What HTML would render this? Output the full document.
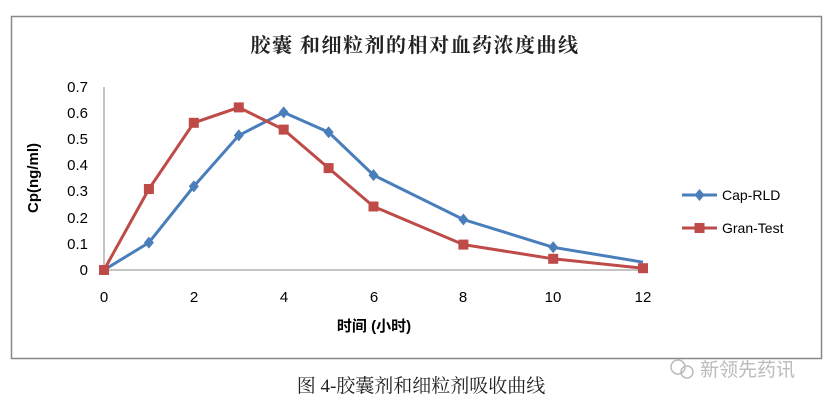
<!DOCTYPE html>
<html><head><meta charset="utf-8"><style>
body{margin:0;background:#fff;width:830px;height:404px;overflow:hidden}
</style></head><body>
<svg width="830" height="404" xmlns="http://www.w3.org/2000/svg" font-family="Liberation Sans, Noto Sans CJK SC, sans-serif">
<rect x="11.5" y="16.5" width="810" height="342" fill="#fff" stroke="#888" stroke-width="1.5"/>
<text x="415" y="52" text-anchor="middle" font-size="20" letter-spacing="1.5" font-family="Noto Serif CJK SC, serif" font-weight="bold" fill="#222">胶囊 和细粒剂的相对血药浓度曲线</text>
<line x1="104" y1="87" x2="104" y2="270" stroke="#888"/>
<line x1="104" y1="270" x2="643" y2="270" stroke="#888"/>
<g font-size="15" fill="#000" text-anchor="end">
<text x="88" y="275">0</text><text x="88" y="249">0.1</text><text x="88" y="223">0.2</text><text x="88" y="196">0.3</text><text x="88" y="170">0.4</text><text x="88" y="144">0.5</text><text x="88" y="118">0.6</text><text x="88" y="92">0.7</text>
</g>
<g font-size="15" fill="#000" text-anchor="middle">
<text x="104" y="302">0</text><text x="194" y="302">2</text><text x="284" y="302">4</text><text x="374" y="302">6</text><text x="463" y="302">8</text><text x="553" y="302">10</text><text x="643" y="302">12</text>
</g>
<text x="374" y="331" text-anchor="middle" font-size="15" font-weight="bold">时间 (小时)</text>
<text transform="translate(38,178) rotate(-90)" text-anchor="middle" font-size="15" font-weight="bold">Cp(ng/ml)</text>
<polyline fill="none" stroke="#4a7ebb" stroke-width="3" points="104,270 148.9,242.6 193.8,186.4 238.8,135.4 283.7,112.4 328.6,132.2 373.5,175.1 463.4,219.5 553.2,247.3 643,262.2"/>
<g fill="#4a7ebb">
<path d="M148.9,236.6l5,6l-5,6l-5,-6z"/><path d="M193.8,180.4l5,6l-5,6l-5,-6z"/><path d="M238.8,129.4l5,6l-5,6l-5,-6z"/><path d="M283.7,106.4l5,6l-5,6l-5,-6z"/><path d="M328.6,126.2l5,6l-5,6l-5,-6z"/><path d="M373.5,169.1l5,6l-5,6l-5,-6z"/><path d="M463.4,213.5l5,6l-5,6l-5,-6z"/><path d="M553.2,241.3l5,6l-5,6l-5,-6z"/>
</g>
<polyline fill="none" stroke="#be4b48" stroke-width="3" points="104,270 148.9,189 193.8,122.8 238.8,107.4 283.7,129.6 328.6,168.1 373.5,206.5 463.4,244.6 553.2,258.8 643,268.2"/>
<g fill="#be4b48">
<rect x="99" y="265" width="10" height="10"/><rect x="143.9" y="184" width="10" height="10"/><rect x="188.8" y="117.8" width="10" height="10"/><rect x="233.8" y="102.4" width="10" height="10"/><rect x="278.7" y="124.6" width="10" height="10"/><rect x="323.6" y="163.1" width="10" height="10"/><rect x="368.5" y="201.5" width="10" height="10"/><rect x="458.4" y="239.6" width="10" height="10"/><rect x="548.2" y="253.8" width="10" height="10"/><rect x="638" y="263.2" width="10" height="10"/>
</g>
<line x1="682" y1="195" x2="717" y2="195" stroke="#4a7ebb" stroke-width="3"/>
<path d="M699.5,189l5,6l-5,6l-5,-6z" fill="#4a7ebb"/>
<text x="722" y="200" font-size="14">Cap-RLD</text>
<line x1="682" y1="228" x2="717" y2="228" stroke="#be4b48" stroke-width="3"/>
<rect x="694.5" y="223" width="10" height="10" fill="#be4b48"/>
<text x="722" y="233" font-size="14">Gran-Test</text>
<text x="421" y="392" text-anchor="middle" font-size="19" font-family="Liberation Serif, Noto Serif CJK SC, serif" fill="#222">图 4-胶囊剂和细粒剂吸收曲线</text>
<circle cx="678" cy="367" r="7" fill="none" stroke="#bbb" stroke-width="1.5"/>
<circle cx="687" cy="372" r="6" fill="none" stroke="#bbb" stroke-width="1.5"/>
<text x="700" y="376" font-size="19" fill="#bbb">新领先药讯</text>
</svg>
</body></html>
